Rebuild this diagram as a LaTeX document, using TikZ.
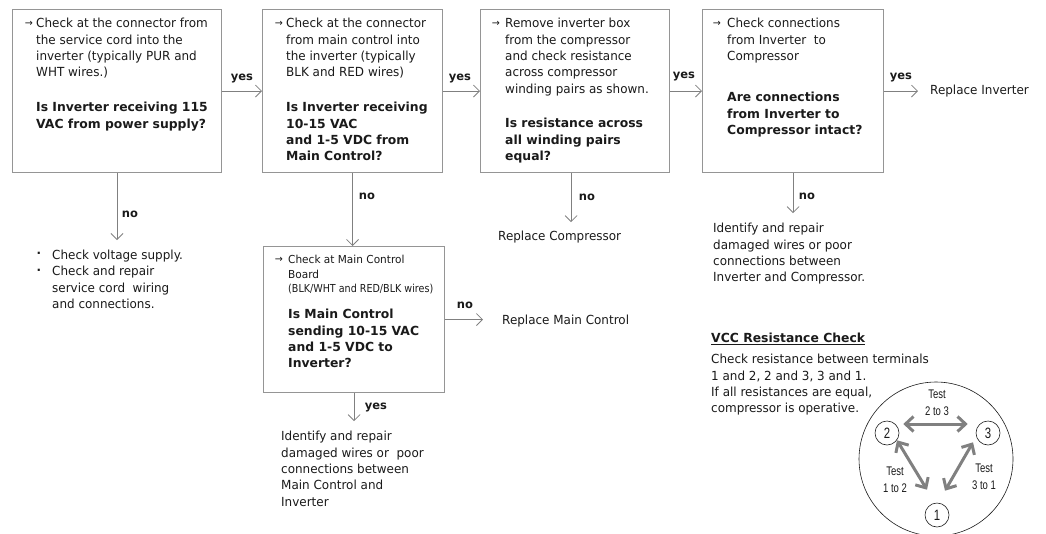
\documentclass[tikz,border=0pt]{standalone}
\usepackage{fontspec}
\usetikzlibrary{arrows.meta}
\setmainfont{DejaVu Sans}[FakeStretch=0.958,BoldFeatures={FakeStretch=0.99}]
\newfontfamily\testfont{Liberation Sans}[FakeStretch=0.76]
\newfontfamily\narrowfont{DejaVu Sans}[FakeStretch=0.87]
\newcommand{\tb}{\fontsize{12.5}{16.4}\selectfont}
\newcommand{\tbb}{\fontsize{12.5}{16.4}\selectfont\bfseries}
\definecolor{ink}{HTML}{1A1A1A}
\definecolor{edge}{HTML}{959595}
\definecolor{conn}{HTML}{808080}
\tikzset{
  box/.style={draw=edge,line width=1.1pt,inner sep=0pt,anchor=north west},
  txt/.style={yshift=-3pt,text=ink,font=\tb,align=left,inner sep=0pt,anchor=north west,execute at begin node=\strut},
  bld/.style={txt,font=\tbb},
  rep/.style={text=ink,font=\tb,inner sep=0pt,anchor=west},
  lab/.style={text=ink,font=\fontsize{11.6}{13}\selectfont\bfseries,inner sep=0pt},
  pointer/.style={text=ink,font=\fontsize{10}{10}\selectfont,inner sep=0pt},
  flow/.style={draw=conn,line width=0.9pt,-{Straight Barb[length=6pt,width=12pt,line width=0.8pt]}},
  thick2/.style={draw=conn,line width=3pt,{Straight Barb[length=8pt,width=15pt]}-{Straight Barb[length=8pt,width=15pt]}},
  term/.style={circle,draw=ink,line width=0.6pt,minimum size=24pt,inner sep=0pt,text=ink,font=\testfont\fontsize{15}{15}\selectfont},
  tst/.style={text=ink,font=\testfont\fontsize{12.5}{17}\selectfont,align=center,inner sep=0pt}
}
\begin{document}
\begin{tikzpicture}[x=1pt,y=-1pt]
\useasboundingbox (0,0) rectangle (1046,533);
% boxes
\node[box,minimum width=209pt,minimum height=163pt] (b1) at (12,9) {};
\node[box,minimum width=180pt,minimum height=163pt] (b2) at (262,9) {};
\node[box,minimum width=189pt,minimum height=163pt] (b3) at (480,9) {};
\node[box,minimum width=181pt,minimum height=163pt] (b4) at (702,9) {};
\node[box,minimum width=181pt,minimum height=146pt] (b5) at (263,246) {};
% box texts
\node[pointer] (p1) at (29,24) {→};
\node[txt] (t1) at (36,15) {Check at the connector from\\the service cord into the\\inverter (typically PUR and\\WHT wires.)};
\node[bld] (q1) at (36,99) {Is Inverter receiving 115\\VAC from power supply?};
\node[pointer] (p2) at (279,24) {→};
\node[txt] (t2) at (286,15) {Check at the connector\\from main control into\\the inverter (typically\\BLK and RED wires)};
\node[bld] (q2) at (286,99) {Is Inverter receiving\\10-15 VAC\\and 1-5 VDC from\\Main Control?};
\node[pointer] (p3) at (496,24) {→};
\node[txt] (t3) at (505,15) {Remove inverter box\\from the compressor\\and check resistance\\across compressor\\winding pairs as shown.};
\node[bld] (q3) at (505,115) {Is resistance across\\all winding pairs\\equal?};
\node[pointer] (p4) at (717,24) {→};
\node[txt] (t4) at (727,15) {Check connections\\from Inverter\ \ to\\Compressor};
\node[bld] (q4) at (727,89) {Are connections\\from Inverter to\\Compressor intact?};
\node[pointer] (p5) at (279,260) {→};
\node[txt,font=\fontsize{11}{14.7}\selectfont] (t5) at (288,252) {Check at Main Control\\Board\\{\narrowfont (BLK/WHT and RED/BLK wires)}};
\node[bld] (q5) at (288,306) {Is Main Control\\sending 10-15 VAC\\and 1-5 VDC to\\Inverter?};
% outcome texts
\coordinate (d1) at (117,240);
\node[pointer,font=\fontsize{12}{12}\selectfont\bfseries] (b1a) at (39,255) {·};
\node[txt] (o1a) at (52,245) {Check voltage supply.};
\node[pointer,font=\fontsize{12}{12}\selectfont\bfseries] (b1b) at (39,272) {·};
\node[txt] (o1b) at (52,263) {Check and repair\\service cord\ \ wiring\\and connections.};
\node[rep] (o3) at (498,237) {Replace Compressor};
\node[txt] (o4) at (713,220) {Identify and repair\\damaged wires or poor\\connections between\\Inverter and Compressor.};
\node[rep] (o2) at (930,91) {Replace Inverter};
\node[rep] (o5) at (502,321) {Replace Main Control};
\node[txt] (o6) at (281,428) {Identify and repair\\damaged wires or\ \ poor\\connections between\\Main Control and\\Inverter};
% connectors
\draw[flow] (b1.east) -- (b2.west);
\draw[flow] (b2.east) -- (b3.west);
\draw[flow] (b3.east) -- (b4.west);
\draw[flow] (b4.east) -- ([xshift=-12pt]o2.west |- b4.east);
\draw[flow] (b1.south -| d1) -- (d1);
\draw[flow] (b2.south) -- (b5.north -| b2.south);
\draw[flow] ([xshift=-4pt]b3.south) -- ([xshift=-4pt,yshift=-49pt]b3.south);
\draw[flow] (b4.south) -- ([yshift=-40pt]b4.south);
\draw[flow] (b5.east) -- ([xshift=-19pt]o5.west |- b5.east);
\draw[flow] (b5.south) -- ([yshift=-28pt]b5.south);
% connector labels
\node[lab] (l1) at (242,79) {yes};
\node[lab] (l2) at (460,79) {yes};
\node[lab] (l3) at (684,77) {yes};
\node[lab] (l4) at (901,78) {yes};
\node[lab] (l5) at (130,214) {no};
\node[lab] (l6) at (367,196) {no};
\node[lab] (l7) at (587,197) {no};
\node[lab] (l8) at (807,196) {no};
\node[lab] (l9) at (465,305) {no};
\node[lab] (l10) at (376,407) {yes};
% VCC
\node[rep,font=\tbb] (h) at (711,339) {\underline{VCC Resistance Check}};
\node[txt] (v) at (711,351) {Check resistance between terminals\\1 and 2, 2 and 3, 3 and 1.\\If all resistances are equal,\\compressor is operative.};
\node[circle,draw=ink,line width=0.6pt,minimum size=154pt,inner sep=0pt] (c) at (936,459) {};
\node[term] (n2) at (887,433) {2};
\node[term] (n3) at (988,433) {3};
\node[term] (n1) at (937,515) {1};
\draw[thick2] ([xshift=4pt,yshift=9pt]n2.east) -- ([xshift=-8pt,yshift=9pt]n3.west);
\draw[thick2] ([xshift=10pt,yshift=5pt]n2.south) -- ([xshift=-10pt,yshift=13pt]n1.north);
\draw[thick2] ([xshift=-15pt,yshift=3pt]n3.south) -- ([xshift=8pt,yshift=12pt]n1.north);
\node[tst] (s23) at (937,403) {Test\\2 to 3};
\node[tst] (s12) at (895,480) {Test\\1 to 2};
\node[tst] (s31) at (984,477) {Test\\3 to 1};
\end{tikzpicture}
\end{document}
